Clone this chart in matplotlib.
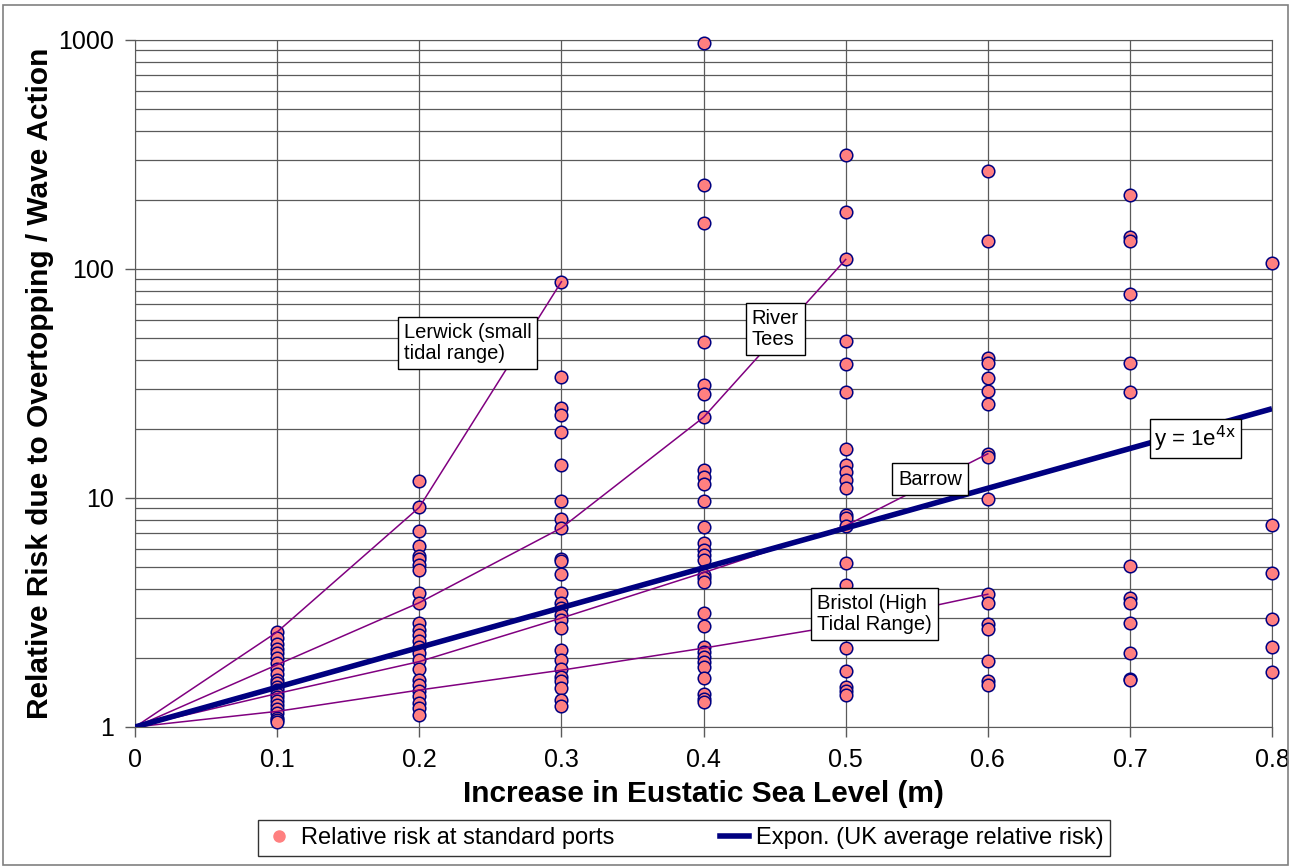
import numpy as np
import matplotlib
matplotlib.use("Agg")
import matplotlib.pyplot as plt
from matplotlib.lines import Line2D
from matplotlib.patches import Rectangle

plt.rcParams['font.family'] = ['Liberation Sans', 'DejaVu Sans']

# Relative risk at standard ports, one list per sea level rise (m)
rise_levels = [0.1, 0.2, 0.3, 0.4, 0.5, 0.6, 0.7, 0.8]
risk_01 = [2.6, 2.45, 2.3, 2.2, 2.1, 2.0, 1.9, 1.8, 1.7, 1.6, 1.55, 1.5, 1.45,
           1.4, 1.35, 1.3, 1.25, 1.2, 1.15, 1.1, 1.07, 1.05]
risk_02 = [11.9, 9.1, 7.2, 6.2, 5.6, 5.4, 5.1, 4.85, 3.86, 3.49, 2.84, 2.65, 2.52,
           2.38, 2.23, 2.1, 1.96, 1.8, 1.6, 1.53, 1.43, 1.36, 1.27, 1.21, 1.13]
risk_03 = [88, 33.8, 24.8, 23.0, 19.5, 14.0, 9.7, 8.1, 7.4, 5.4, 5.3, 4.66, 3.84,
           3.47, 3.31, 3.08, 2.93, 2.7, 2.17, 1.96, 1.8, 1.66, 1.58, 1.48, 1.31, 1.23]
risk_04 = [973, 233, 158, 48.2, 31.1, 28.5, 22.5, 13.3, 12.4, 11.5, 9.7, 7.45, 6.34,
           5.93, 5.64, 5.36, 4.61, 4.46, 4.31, 3.14, 2.76, 2.24, 2.13, 2.03, 1.93,
           1.83, 1.63, 1.40, 1.33, 1.29]
risk_05 = [313, 177, 110, 48.5, 38.6, 29.0, 16.3, 14.0, 13.0, 12.0, 11.1, 8.45, 8.15,
           7.56, 5.2, 4.15, 3.6, 3.0, 2.6, 2.21, 1.76, 1.49, 1.43, 1.38]
risk_06 = [267, 132, 40.7, 38.9, 33.3, 29.2, 25.7, 15.6, 15.1, 9.9, 3.8, 3.48, 2.82,
           2.68, 1.94, 1.59, 1.52]
risk_07 = [210, 138, 132, 77.5, 38.7, 29.1, 5.05, 3.65, 3.47, 2.84, 2.1, 1.62, 1.6]
risk_08 = [106.6, 7.62, 4.69, 2.96, 2.23, 1.73]
all_risks = [risk_01, risk_02, risk_03, risk_04, risk_05, risk_06, risk_07, risk_08]

# highlighted ports (start at 0 m, risk 1)
port_x = [0.0, 0.1, 0.2, 0.3, 0.4, 0.5, 0.6]
lerwick = [1, 2.6, 9.1, 88]
river_tees = [1, 1.87, 3.49, 7.4, 22.5, 110]
barrow = [1, 1.4, 1.93, 2.99, 4.72, 7.56, 15.6]
bristol = [1, 1.17, 1.45, 1.77, 2.21, 2.8, 3.8]

# UK average trend: y = a * exp(b x)
trend_a = 1.0
trend_b = 4.0

fig = plt.figure(figsize=(12.91, 8.67), dpi=100)
ax = fig.add_axes([0.1046, 0.1615, 0.8807, 0.7924])

pts_x = np.concatenate([[x] * len(r) for x, r in zip(rise_levels, all_risks)])
pts_y = np.concatenate(all_risks)

ax.set_yscale('log')
ax.set_xlim(0, 0.8)
ax.set_ylim(1, 1000)

ax.grid(True, which='both', axis='y', color='#5a5a5a', linewidth=0.9)
ax.grid(True, which='major', axis='x', color='#5a5a5a', linewidth=0.9)
ax.set_axisbelow(True)

ax.scatter(pts_x, pts_y, s=82, color='#FF8080', edgecolors='#000080',
           linewidths=1.1, zorder=3, clip_on=False)

purple = '#800080'
for vals in [lerwick, river_tees, barrow, bristol]:
    ax.plot(port_x[:len(vals)], vals, color=purple, linewidth=1.1, zorder=4)

tx = np.linspace(0, 0.8, 50)
ax.plot(tx, trend_a * np.exp(trend_b * tx), color='#000080', linewidth=4,
        zorder=5, solid_capstyle='butt')

box = dict(boxstyle='square,pad=0.3', facecolor='white', edgecolor='black', linewidth=1)
ax.text(0.189, 58, 'Lerwick (small\ntidal range)', fontsize=14.5, ha='left', va='top',
        bbox=box, zorder=6, linespacing=1.15)
ax.text(0.434, 67, 'River\nTees', fontsize=14.5, ha='left', va='top',
        bbox=box, zorder=6, linespacing=1.15)
ax.text(0.537, 12.1, 'Barrow', fontsize=14.5, ha='left', va='center',
        bbox=box, zorder=6)
ax.text(0.480, 3.8, 'Bristol (High\nTidal Range)', fontsize=14.5, ha='left', va='top',
        bbox=box, zorder=6, linespacing=1.15)
ax.text(0.717, 18.2, 'y = 1e$^{\\mathrm{4x}}$', fontsize=16, ha='left', va='center',
        bbox=dict(boxstyle='square,pad=0.2', facecolor='white', edgecolor='black',
                  linewidth=1), zorder=6)

ax.set_xticks([0, 0.1, 0.2, 0.3, 0.4, 0.5, 0.6, 0.7, 0.8])
ax.set_xticklabels(['0', '0.1', '0.2', '0.3', '0.4', '0.5', '0.6', '0.7', '0.8'])
ax.set_yticks([1, 10, 100, 1000])
ax.set_yticklabels(['1', '10', '100', '1000'])
ax.tick_params(which='major', direction='out', length=7, width=1, color='#5a5a5a',
               labelsize=18, pad=8)
ax.tick_params(which='minor', length=0)
for sp in ax.spines.values():
    sp.set_color('#5a5a5a')

ax.set_xlabel('Increase in Eustatic Sea Level (m)', fontsize=21.5, fontweight='bold',
              labelpad=6)
ax.set_ylabel('Relative Risk due to Overtopping / Wave Action', fontsize=21.5,
              fontweight='bold', labelpad=3)

handles = [
    Line2D([], [], marker='o', linestyle='none', markersize=8,
           markerfacecolor='#FF8080', markeredgecolor='#FF8080'),
    Line2D([], [], color='#000080', linewidth=4),
]
leg = fig.legend(handles, ['Relative risk at standard ports',
                           'Expon. (UK average relative risk)'],
                 loc='center', bbox_to_anchor=(0.530, 0.0335), ncol=2,
                 fontsize=17, frameon=True, fancybox=False, edgecolor='black',
                 handlelength=1.2, handletextpad=0.3, columnspacing=4.5,
                 borderpad=0.3, borderaxespad=0)
leg.get_frame().set_linewidth(1)

fig.patches.append(Rectangle((0.002, 0.002), 0.996, 0.992, transform=fig.transFigure,
                             fill=False, edgecolor='#808080', linewidth=1.2))

fig.savefig('out.png', dpi=100)
